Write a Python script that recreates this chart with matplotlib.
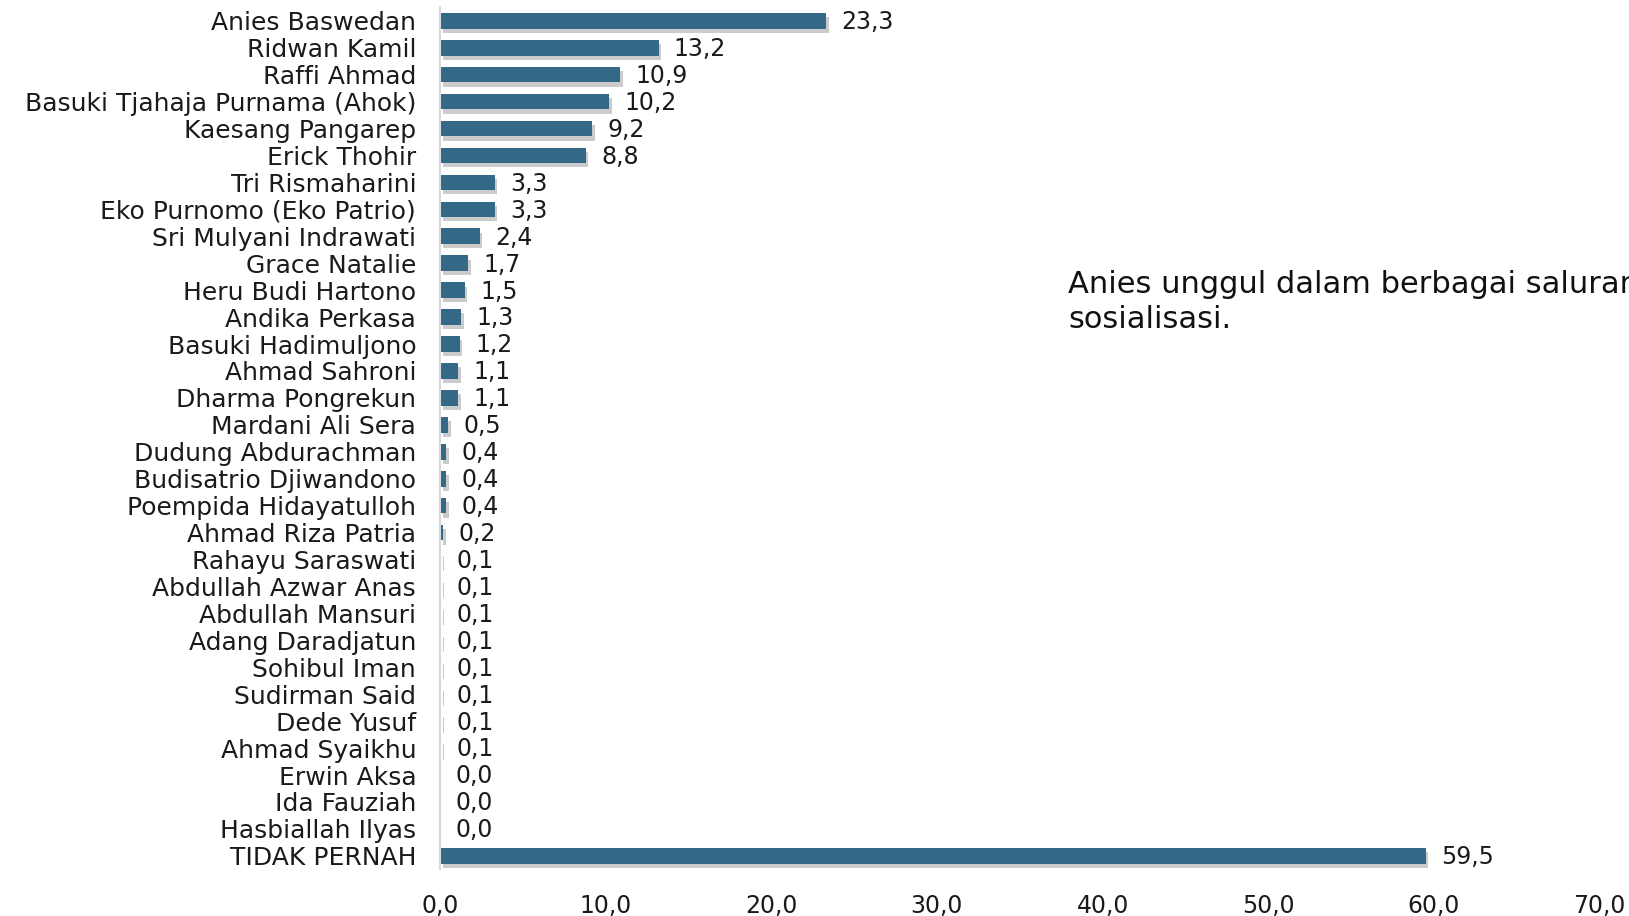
import matplotlib.pyplot as plt
import matplotlib.patheffects as pe

names = ["Anies Baswedan", "Ridwan Kamil", "Raffi Ahmad",
         "Basuki Tjahaja Purnama (Ahok)", "Kaesang Pangarep", "Erick Thohir",
         "Tri Rismaharini", "Eko Purnomo (Eko Patrio)", "Sri Mulyani Indrawati",
         "Grace Natalie", "Heru Budi Hartono", "Andika Perkasa",
         "Basuki Hadimuljono", "Ahmad Sahroni", "Dharma Pongrekun",
         "Mardani Ali Sera", "Dudung Abdurachman", "Budisatrio Djiwandono",
         "Poempida Hidayatulloh", "Ahmad Riza Patria", "Rahayu Saraswati",
         "Abdullah Azwar Anas", "Abdullah Mansuri", "Adang Daradjatun",
         "Sohibul Iman", "Sudirman Said", "Dede Yusuf", "Ahmad Syaikhu",
         "Erwin Aksa", "Ida Fauziah", "Hasbiallah Ilyas", "TIDAK PERNAH"]
values = [23.3, 13.2, 10.9, 10.2, 9.2, 8.8, 3.3, 3.3, 2.4, 1.7, 1.5, 1.3,
          1.2, 1.1, 1.1, 0.5, 0.4, 0.4, 0.4, 0.2, 0.1, 0.1, 0.1, 0.1, 0.1,
          0.1, 0.1, 0.1, 0.0, 0.0, 0.0, 59.5]
xticks = [0, 10, 20, 30, 40, 50, 60, 70]

plt.rcParams["font.family"] = ["DejaVu Sans"]
fig = plt.figure(figsize=(16.29, 9.16), dpi=100)
ax = fig.add_axes([0.270, 0.051, 0.712, 0.941])

ypos = list(range(len(names)))
bars = ax.barh(ypos, values, height=0.58, color="#336886")
for b in bars:
    b.set_path_effects([pe.SimplePatchShadow(offset=(2, -3), shadow_rgbFace="#999999", alpha=0.5),
                        pe.Normal()])

for y, v in zip(ypos, values):
    ax.annotate(f"{v:.1f}".replace(".", ","), (v, y), xytext=(11, -1),
                textcoords="offset points", va="center", ha="left",
                fontsize=17, color="#1a1a1a")

ax.set_ylim(len(names) - 0.5, -0.5)
ax.set_xlim(0, 70)
ax.set_yticks(ypos)
ax.set_yticklabels(names, fontsize=18, color="#1a1a1a")
ax.set_xticks(xticks)
ax.set_xticklabels([f"{t:.1f}".replace(".", ",") for t in xticks], fontsize=17, color="#1a1a1a")
ax.tick_params(axis="both", length=0)
ax.tick_params(axis="x", pad=18)
ax.tick_params(axis="y", pad=17)
for s in ["top", "right", "bottom"]:
    ax.spines[s].set_visible(False)
ax.spines["left"].set_color("#d9d9d9")
ax.spines["left"].set_linewidth(1.5)

fig.text(1068 / 1629, 1 - 302 / 916, "Anies unggul dalam berbagai saluran\nsosialisasi.",
         fontsize=22, color="#111111", ha="left", va="center", linespacing=1.25)

fig.savefig("out.png", dpi=100)
